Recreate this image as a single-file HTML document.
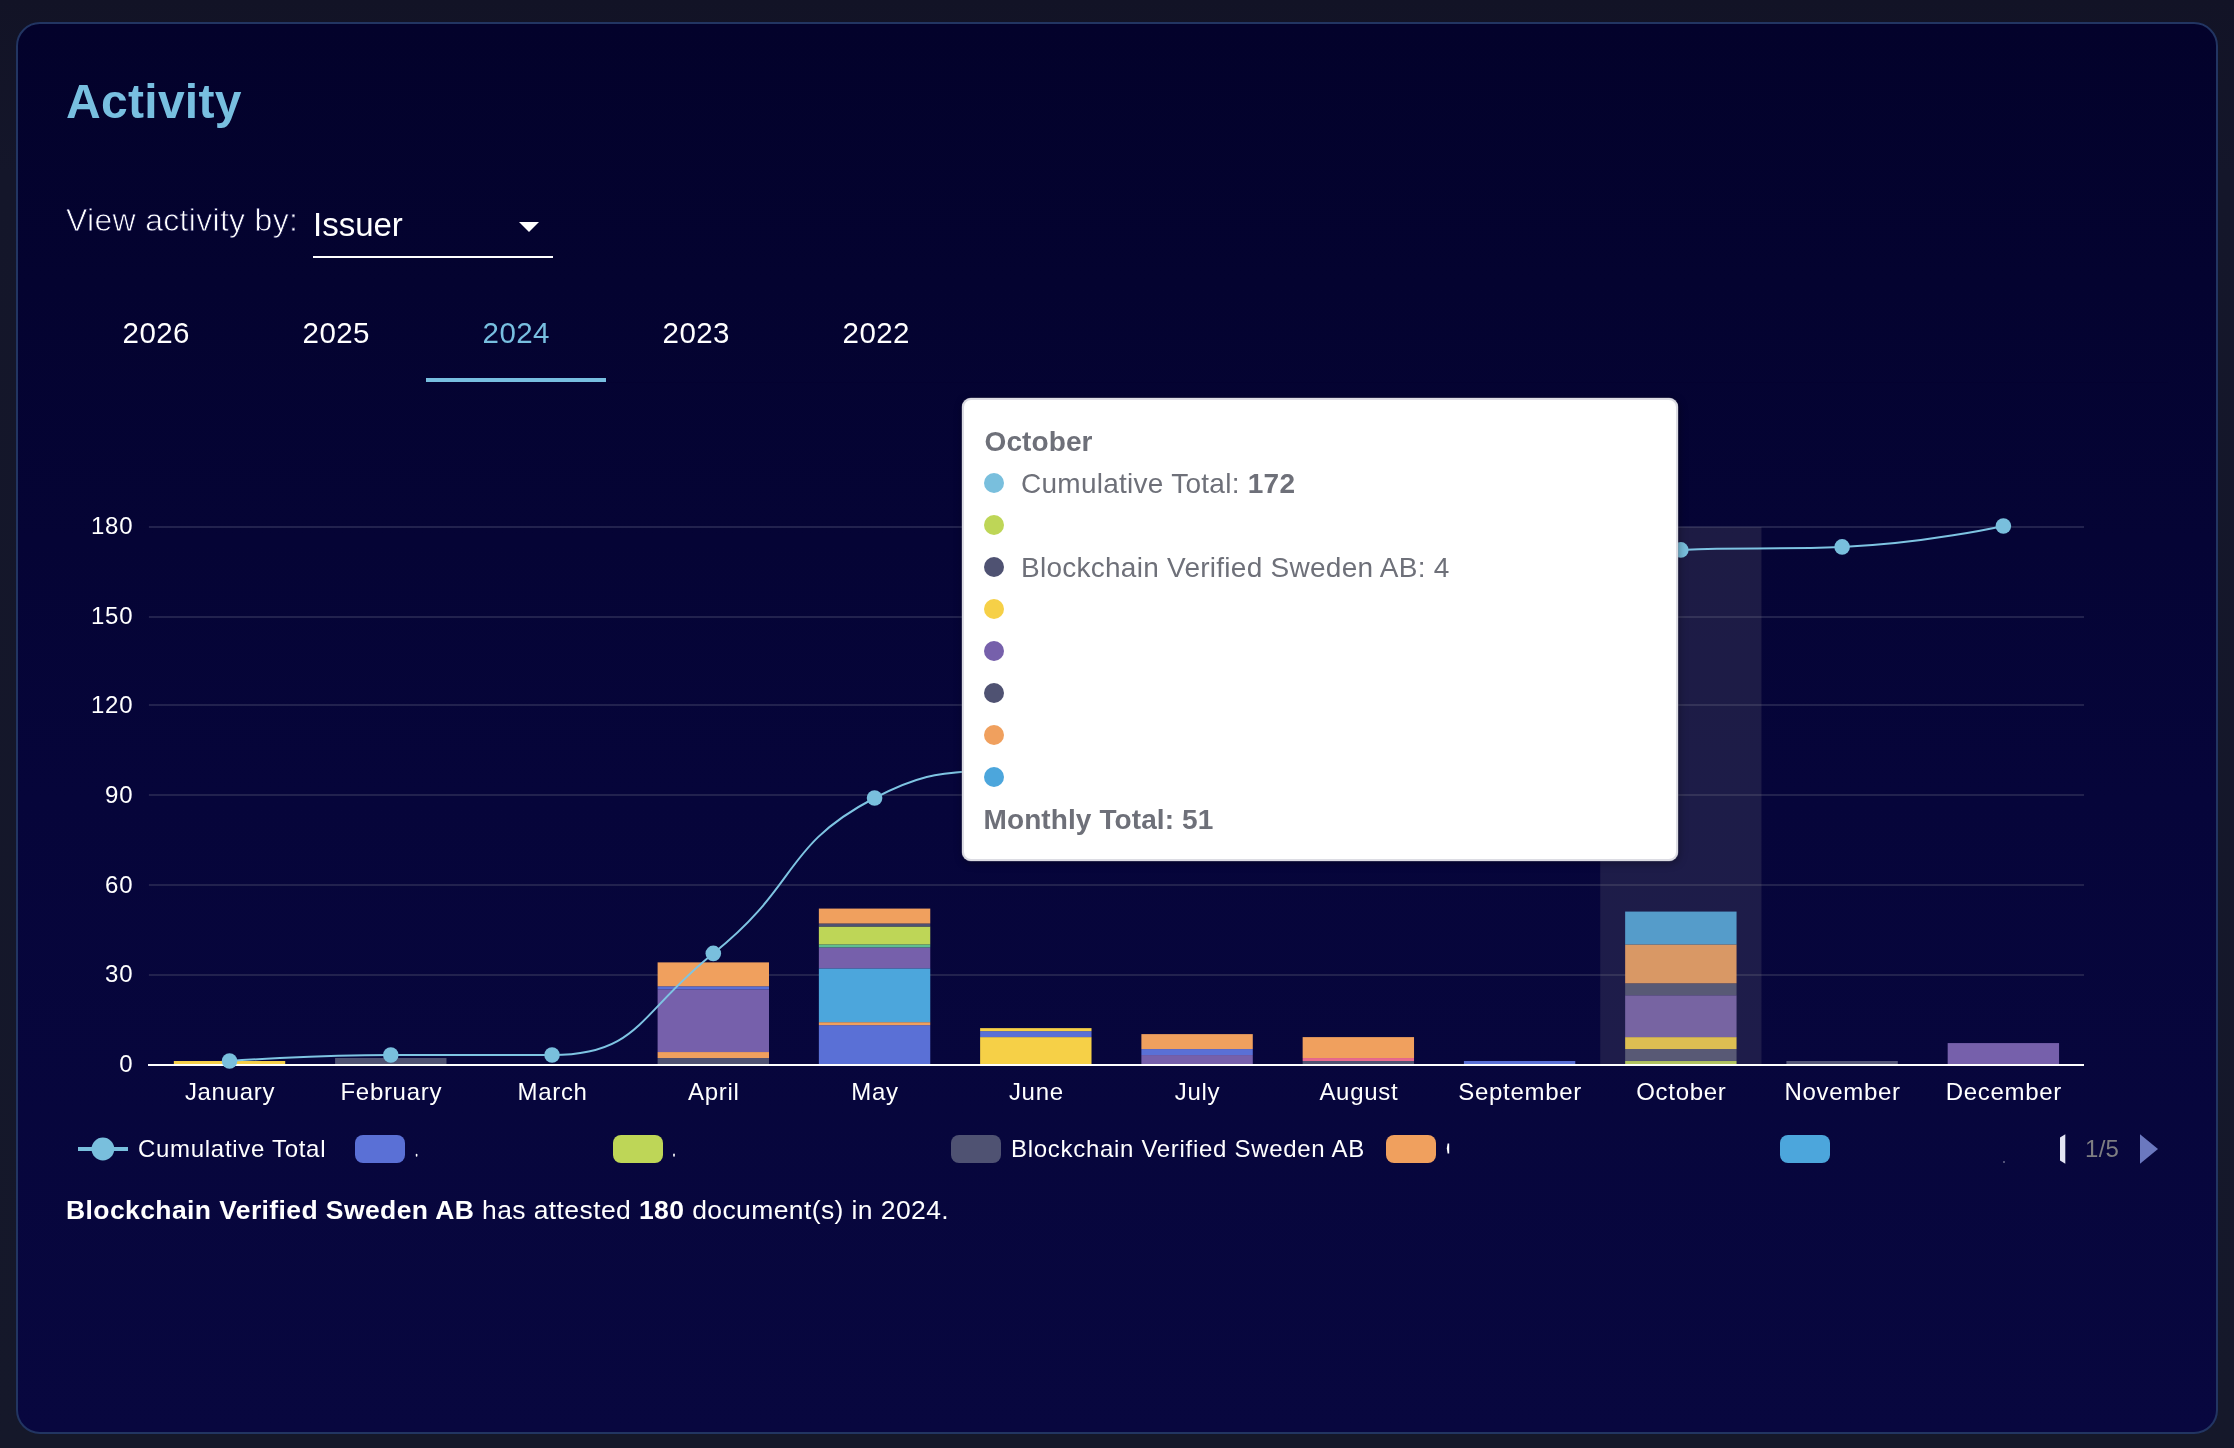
<!DOCTYPE html>
<html>
<head>
<meta charset="utf-8">
<style>
html,body{margin:0;padding:0;}
body{width:2234px;height:1448px;overflow:hidden;position:relative;
  background:linear-gradient(180deg,#121326 0%,#14162a 12%,#15182a 100%);font-family:"Liberation Sans",sans-serif;}
.card{position:absolute;left:16px;top:22px;width:2198px;height:1408px;
  border:2px solid #223562;border-radius:24px;background:linear-gradient(180deg,#03022b 0%,#06053a 55%,#08073f 100%);}
.abs{position:absolute;white-space:nowrap;will-change:transform;}
.title{left:66px;top:74px;font-size:48px;font-weight:bold;color:#78bfe0;letter-spacing:0.3px;}
.viewby{left:66px;top:201.7px;font-size:32px;color:#ffffff;letter-spacing:0.3px;-webkit-text-stroke:0.8px #04033a;paint-order:normal;}
.issuer{left:313px;top:206px;font-size:33px;color:#ffffff;letter-spacing:0px;}
.ddline{left:313px;top:256px;width:240px;height:2px;background:#ffffff;}
.tab{top:316px;width:180px;text-align:center;font-size:29.5px;color:#ffffff;letter-spacing:0.4px;text-indent:0.4px;}
.tabline{left:426px;top:378px;width:180px;height:4px;background:#78bfe0;}
svg.chart{position:absolute;left:0;top:0;will-change:transform;}
.ax{font-family:"Liberation Sans",sans-serif;font-size:24px;fill:#ffffff;letter-spacing:0.7px;}
.tooltip{position:absolute;left:962px;top:398px;width:712px;height:459px;
  border:2px solid transparent;
  color:#6e7079;font-size:28px;letter-spacing:0.26px;will-change:transform;}
.tooltip .tbg{position:absolute;left:-2px;top:-2px;width:716px;height:463px;background:#ffffff;border-radius:9px;box-shadow:inset 0 0 0 2px rgba(205,205,215,0.7),0 0 0 0.5px rgba(150,150,165,0.5),1px 2px 8px rgba(0,0,0,0.35);filter:blur(0.7px);}
.tooltip .dot{position:absolute;left:20px;width:20px;height:20px;border-radius:50%;}
.tooltip .tl{position:absolute;left:57px;white-space:nowrap;}
.tooltip .hd{position:absolute;left:20.5px;top:26px;font-weight:bold;letter-spacing:0.1px;}
.tooltip .ft{position:absolute;left:19.5px;top:404px;font-weight:bold;letter-spacing:0.1px;}
.legtxt{font-size:24px;color:#ffffff;top:1135px;letter-spacing:0.7px;}
.lbox{position:absolute;top:1135px;width:50px;height:28px;border-radius:8px;}
.summary{left:66px;top:1194.5px;font-size:26.5px;color:#ffffff;letter-spacing:0.4px;}
</style>
</head>
<body>
<div class="card"></div>
<div class="abs title">Activity</div>
<div class="abs viewby">View activity by:</div>
<div class="abs issuer">Issuer</div>
<svg class="abs" style="left:519px;top:222px" width="22" height="11"><path d="M0 0 L20 0 L10 10 Z" fill="#fff"/></svg>
<div class="abs ddline"></div>

<div class="abs tab" style="left:66px">2026</div>
<div class="abs tab" style="left:246px">2025</div>
<div class="abs tab" style="left:426px;color:#78bfe0">2024</div>
<div class="abs tab" style="left:606px">2023</div>
<div class="abs tab" style="left:786px">2022</div>
<div class="abs tabline"></div>
<div class="abs" style="left:606px;top:382px;width:1562px;height:1px;background:#040230;"></div>

<svg class="chart" width="2234" height="1448">
<rect x="148.9" y="974" width="1935.1" height="2" fill="#22224e"/>
<rect x="148.9" y="884" width="1935.1" height="2" fill="#22224e"/>
<rect x="148.9" y="794" width="1935.1" height="2" fill="#22224e"/>
<rect x="148.9" y="704" width="1935.1" height="2" fill="#22224e"/>
<rect x="148.9" y="616" width="1935.1" height="2" fill="#22224e"/>
<rect x="148.9" y="526" width="1935.1" height="2" fill="#22224e"/>
<rect x="173.83" y="1061.01" width="111.40" height="2.99" fill="#f6d047"/>
<rect x="335.09" y="1058.02" width="111.40" height="5.98" fill="#4f5272"/>
<rect x="657.60" y="1058.02" width="111.40" height="5.98" fill="#4f5272"/>
<rect x="657.60" y="1052.04" width="111.40" height="5.98" fill="#f0a05e"/>
<rect x="657.60" y="989.28" width="111.40" height="62.77" fill="#7660ab"/>
<rect x="657.60" y="986.29" width="111.40" height="2.99" fill="#5a70d6"/>
<rect x="657.60" y="962.38" width="111.40" height="23.91" fill="#f0a05e"/>
<rect x="818.86" y="1025.14" width="111.40" height="38.86" fill="#5a70d6"/>
<rect x="818.86" y="1022.16" width="111.40" height="2.99" fill="#f0a05e"/>
<rect x="818.86" y="968.36" width="111.40" height="53.80" fill="#4ca6dc"/>
<rect x="818.86" y="947.43" width="111.40" height="20.92" fill="#7660ab"/>
<rect x="818.86" y="944.44" width="111.40" height="2.99" fill="#5fbf8f"/>
<rect x="818.86" y="926.51" width="111.40" height="17.93" fill="#bed657"/>
<rect x="818.86" y="923.52" width="111.40" height="2.99" fill="#4f5272"/>
<rect x="818.86" y="908.58" width="111.40" height="14.94" fill="#f0a05e"/>
<rect x="980.12" y="1037.10" width="111.40" height="26.90" fill="#f6d047"/>
<rect x="980.12" y="1031.12" width="111.40" height="5.98" fill="#5a70d6"/>
<rect x="980.12" y="1028.13" width="111.40" height="2.99" fill="#f6d047"/>
<rect x="1141.38" y="1055.03" width="111.40" height="8.97" fill="#7660ab"/>
<rect x="1141.38" y="1049.06" width="111.40" height="5.98" fill="#5a70d6"/>
<rect x="1141.38" y="1034.11" width="111.40" height="14.94" fill="#f0a05e"/>
<rect x="1302.64" y="1061.01" width="111.40" height="2.99" fill="#4f5272"/>
<rect x="1302.64" y="1058.02" width="111.40" height="2.99" fill="#e86a8e"/>
<rect x="1302.64" y="1037.10" width="111.40" height="20.92" fill="#f0a05e"/>
<rect x="1463.90" y="1061.01" width="111.40" height="2.99" fill="#5a70d6"/>
<rect x="1625.15" y="1061.01" width="111.40" height="2.99" fill="#bed657"/>
<rect x="1625.15" y="1049.06" width="111.40" height="11.96" fill="#4f5272"/>
<rect x="1625.15" y="1037.10" width="111.40" height="11.96" fill="#f6d047"/>
<rect x="1625.15" y="995.26" width="111.40" height="41.84" fill="#7660ab"/>
<rect x="1625.15" y="983.30" width="111.40" height="11.96" fill="#4f5272"/>
<rect x="1625.15" y="944.44" width="111.40" height="38.86" fill="#f0a05e"/>
<rect x="1625.15" y="911.57" width="111.40" height="32.88" fill="#4ca6dc"/>
<rect x="1786.41" y="1061.01" width="111.40" height="2.99" fill="#56587a"/>
<rect x="1947.67" y="1043.08" width="111.40" height="20.92" fill="#7660ab"/>
<rect x="1600.22" y="527" width="161.26" height="537" fill="rgb(126,122,130)" fill-opacity="0.2"/>
<rect x="148" y="1064" width="1936" height="2" fill="#ffffff"/>
<path d="M229.53 1061.01 C229.53 1061.01 310.13 1055.03 390.79 1055.03 C471.39 1055.03 478.14 1055.03 552.05 1055.03 C639.40 1055.03 639.16 1012.50 713.30 953.41 C800.42 883.98 781.76 846.61 874.56 797.99 C943.02 762.12 954.90 778.62 1035.82 762.12 C1116.16 745.74 1116.32 746.45 1197.08 732.23 C1277.58 718.06 1277.16 708.36 1358.34 705.33 C1438.42 702.34 1451.72 705.33 1519.60 702.34 C1612.98 698.23 1587.47 554.02 1680.85 549.91 C1748.73 546.92 1761.81 549.91 1842.11 546.92 C1923.07 543.91 2003.37 526.00 2003.37 526.00" fill="none" stroke="#7ec4e2" stroke-width="2"/>
<circle cx="229.53" cy="1061.01" r="7.8" fill="#79bfdd"/>
<circle cx="390.79" cy="1055.03" r="7.8" fill="#79bfdd"/>
<circle cx="552.05" cy="1055.03" r="7.8" fill="#79bfdd"/>
<circle cx="713.30" cy="953.41" r="7.8" fill="#79bfdd"/>
<circle cx="874.56" cy="797.99" r="7.8" fill="#79bfdd"/>
<circle cx="1035.82" cy="762.12" r="7.8" fill="#79bfdd"/>
<circle cx="1197.08" cy="732.23" r="7.8" fill="#79bfdd"/>
<circle cx="1358.34" cy="705.33" r="7.8" fill="#79bfdd"/>
<circle cx="1519.60" cy="702.34" r="7.8" fill="#79bfdd"/>
<circle cx="1680.85" cy="549.91" r="7.8" fill="#79bfdd"/>
<circle cx="1842.11" cy="546.92" r="7.8" fill="#79bfdd"/>
<circle cx="2003.37" cy="526.00" r="7.8" fill="#79bfdd"/>
<text x="133.2" y="1072.00" text-anchor="end" class="ax">0</text>
<text x="133.2" y="982.33" text-anchor="end" class="ax">30</text>
<text x="133.2" y="892.67" text-anchor="end" class="ax">60</text>
<text x="133.2" y="803.00" text-anchor="end" class="ax">90</text>
<text x="133.2" y="713.33" text-anchor="end" class="ax">120</text>
<text x="133.2" y="623.67" text-anchor="end" class="ax">150</text>
<text x="133.2" y="534.00" text-anchor="end" class="ax">180</text>
<text x="230.03" y="1100" text-anchor="middle" class="ax">January</text>
<text x="391.29" y="1100" text-anchor="middle" class="ax">February</text>
<text x="552.55" y="1100" text-anchor="middle" class="ax">March</text>
<text x="713.80" y="1100" text-anchor="middle" class="ax">April</text>
<text x="875.06" y="1100" text-anchor="middle" class="ax">May</text>
<text x="1036.32" y="1100" text-anchor="middle" class="ax">June</text>
<text x="1197.58" y="1100" text-anchor="middle" class="ax">July</text>
<text x="1358.84" y="1100" text-anchor="middle" class="ax">August</text>
<text x="1520.10" y="1100" text-anchor="middle" class="ax">September</text>
<text x="1681.35" y="1100" text-anchor="middle" class="ax">October</text>
<text x="1842.61" y="1100" text-anchor="middle" class="ax">November</text>
<text x="2003.87" y="1100" text-anchor="middle" class="ax">December</text>
</svg>

<div class="tooltip">
<div class="tbg"></div>
<div class="hd">October</div>
<div class="dot" style="top:73px;background:#79bfdd"></div>
<div class="tl" style="top:68px">Cumulative Total: <b>172</b></div>
<div class="dot" style="top:115px;background:#bed657"></div>
<div class="dot" style="top:157px;background:#4f5272"></div>
<div class="tl" style="top:152px">Blockchain Verified Sweden AB: 4</div>
<div class="dot" style="top:199px;background:#f6d047"></div>
<div class="dot" style="top:241px;background:#7660ab"></div>
<div class="dot" style="top:283px;background:#4f5272"></div>
<div class="dot" style="top:325px;background:#f0a05e"></div>
<div class="dot" style="top:367px;background:#4ca6dc"></div>
<div class="ft">Monthly Total: 51</div>
</div>

<!-- legend -->
<svg class="abs" style="left:76px;top:1136px" width="54" height="26">
  <rect x="2" y="11" width="50" height="4" fill="#79bfdd"/>
  <circle cx="26.9" cy="13" r="11.4" fill="#79bfdd"/>
</svg>
<div class="abs legtxt" style="left:138px">Cumulative Total</div>
<div class="lbox" style="left:355px;background:#5a70d6"></div>
<div class="lbox" style="left:613px;background:#bed657"></div>
<div class="lbox" style="left:951px;background:#4f5272"></div>
<div class="abs legtxt" style="left:1011px">Blockchain Verified Sweden AB</div>
<div class="lbox" style="left:1386px;background:#f0a05e"></div>
<div class="lbox" style="left:1780px;background:#4ca6dc"></div>
<svg class="abs" style="left:2055px;top:1133px" width="110" height="34">
  <path d="M5 4.5 L10.3 1.3 L10.3 30.7 L5 27.5 Z" fill="#e4e6f4"/>
  <path d="M85 1.3 L103 16 L85 30.7 Z" fill="#6b78bf"/>
</svg>
<div class="abs legtxt" style="left:2085px;color:#7e7e82;letter-spacing:0.3px">1/5</div>

<svg class="abs" style="left:0;top:0" width="2234" height="1448">
  <rect x="415.8" y="1153.8" width="1.6" height="3" rx="0.8" fill="#ffffff"/>
  <rect x="673.2" y="1153.5" width="1.6" height="3.2" rx="0.8" fill="#ffffff"/>
  <path d="M1447.6 1143.5 L1449.2 1143.5 L1449.2 1153.5 L1447.6 1153.5 L1446.8 1148.5 Z" fill="#ffffff"/>
  <rect x="2003.2" y="1161.5" width="1.6" height="1" fill="#c0c0d0"/>
</svg>
<div class="abs summary"><b>Blockchain Verified Sweden AB</b> has attested <b>180</b> document(s) in 2024.</div>
</body>
</html>
